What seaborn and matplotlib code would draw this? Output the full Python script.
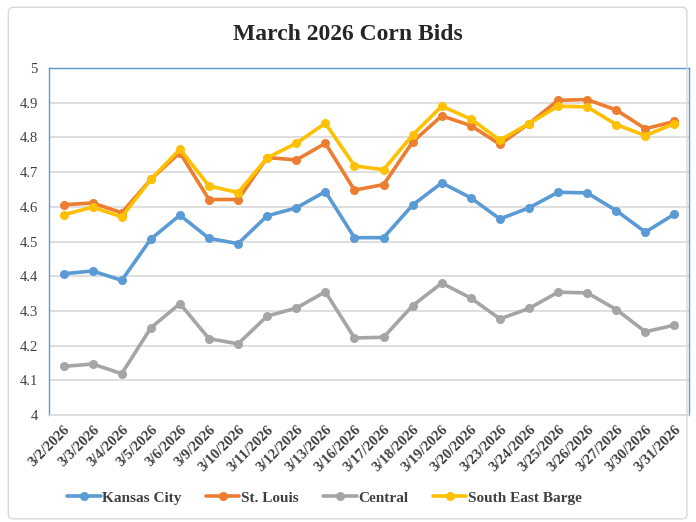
import matplotlib
matplotlib.use('Agg')
import matplotlib.pyplot as plt
from matplotlib.patches import FancyBboxPatch
import numpy as np
import pandas as pd
import seaborn as sns

dates = ['3/2/2026', '3/3/2026', '3/4/2026', '3/5/2026', '3/6/2026', '3/9/2026',
         '3/10/2026', '3/11/2026', '3/12/2026', '3/13/2026', '3/16/2026', '3/17/2026',
         '3/18/2026', '3/19/2026', '3/20/2026', '3/23/2026', '3/24/2026', '3/25/2026',
         '3/26/2026', '3/27/2026', '3/30/2026', '3/31/2026']
kansas_city = [4.407, 4.415, 4.388, 4.507, 4.576, 4.509, 4.494, 4.574, 4.597, 4.644, 4.511,
               4.511, 4.605, 4.669, 4.626, 4.565, 4.597, 4.642, 4.640, 4.589, 4.527, 4.579]
st_louis = [4.606, 4.611, 4.583, 4.679, 4.756, 4.621, 4.621, 4.742, 4.735, 4.783, 4.648,
            4.664, 4.787, 4.862, 4.834, 4.780, 4.840, 4.907, 4.909, 4.879, 4.825, 4.846]
central = [4.140, 4.147, 4.119, 4.251, 4.321, 4.220, 4.205, 4.285, 4.308, 4.355, 4.222,
           4.224, 4.315, 4.380, 4.337, 4.277, 4.307, 4.354, 4.352, 4.304, 4.240, 4.259]
se_barge = [4.577, 4.599, 4.571, 4.679, 4.766, 4.660, 4.641, 4.741, 4.783, 4.841, 4.718,
            4.707, 4.807, 4.890, 4.853, 4.792, 4.840, 4.890, 4.888, 4.837, 4.805, 4.840]

markets = ['Kansas City', 'St. Louis', 'Central', 'South East Barge']
colors = ['#5B9BD5', '#ED7D31', '#A5A5A5', '#FFC000']

df = pd.DataFrame({'date': dates, 'Kansas City': kansas_city, 'St. Louis': st_louis,
                   'Central': central, 'South East Barge': se_barge})
long = df.melt(id_vars='date', var_name='market', value_name='bid')

sns.set_style('white')
plt.rcParams['font.family'] = ['Liberation Serif', 'DejaVu Serif']

fig = plt.figure(figsize=(6.96, 5.22), dpi=100)
fig.patches.append(FancyBboxPatch((0.012, 0.006), 0.975, 0.98, boxstyle='round,pad=0,rounding_size=0.008',
                                  transform=fig.transFigure, fill=False, edgecolor='#D9D9D9', linewidth=1))
ax = fig.add_axes([49 / 696, 1 - 415 / 522, 640 / 696, 347 / 522])

sns.lineplot(data=long, x='date', y='bid', hue='market', hue_order=markets,
             palette=dict(zip(markets, colors)), marker='o', markersize=6.5,
             markeredgewidth=0, linewidth=2.6, sort=False, ax=ax, legend=False)

ax.set_xlim(-0.5, len(dates) - 0.5)
ax.set_ylim(4, 5)
ax.set_yticks(np.arange(4, 5.01, 0.1))
ax.set_yticklabels(['4', '4.1', '4.2', '4.3', '4.4', '4.5', '4.6', '4.7', '4.8', '4.9', '5'])
ax.yaxis.grid(True, color='#D9D9D9', linewidth=1.2)
ax.set_axisbelow(True)
ax.set_xlabel('')
ax.set_ylabel('')
ax.set_xticks(range(len(dates)))
ax.set_xticklabels(dates, rotation=45, ha='right', rotation_mode='anchor',
                   fontsize=10.5, fontweight='bold', color='#404040')
ax.tick_params(axis='y', labelsize=10.5, colors='#404040', length=0, pad=8)
ax.tick_params(axis='x', length=0, pad=6)
for side in ['left', 'top', 'right']:
    ax.spines[side].set_color('#5B9BD5')
    ax.spines[side].set_linewidth(1)
ax.spines['bottom'].set_color('#D9D9D9')
ax.spines['bottom'].set_linewidth(1.2)

fig.text(0.5, 1 - 35 / 522, 'March 2026 Corn Bids', ha='center', va='center',
         fontsize=17, fontweight='bold')

handles = [plt.Line2D([], [], color=c, marker='o', markersize=6.5, markeredgewidth=0, linewidth=2.6)
           for c in colors]
fig.legend(handles, markets, loc='center', bbox_to_anchor=(0.466, 1 - 498 / 522), ncol=4,
           frameon=False, handlelength=2.2, handletextpad=0.1, columnspacing=1.6,
           prop={'size': 11, 'weight': 'bold'}, labelcolor='#404040')

fig.savefig('out.png', dpi=100)
